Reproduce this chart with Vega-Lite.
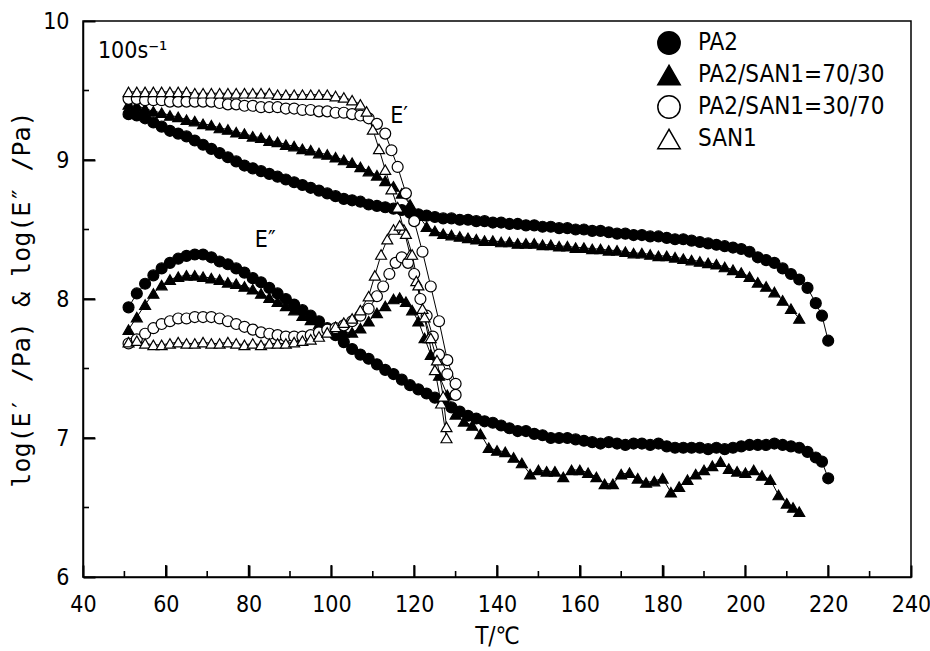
{
 "$schema": "https://vega.github.io/schema/vega-lite/v6.json",
 "width": 828, "height": 556,
 "autosize": "none",
 "padding": {"left": 83, "top": 21, "right": 19, "bottom": 74},
 "background": "white",
 "config": {
   "font": "DejaVu Sans Condensed",
   "view": {"stroke": "black", "strokeWidth": 1.5},
   "axis": {"grid": false, "domainColor": "black", "domainWidth": 1.5, "labelColor": "black", "titleColor": "black", "labelFont": "DejaVu Sans Condensed", "titleFont": "DejaVu Sans Mono", "labelFontSize": 23, "titleFontSize": 25, "titleFontWeight": "normal", "labelFlush": false, "labelOverlap": false}
 },
 "data": {"values": [
  {"m":"PA2","c":"E1","T":51,"v":9.33},{"m":"PA2","c":"E1","T":53,"v":9.32},{"m":"PA2","c":"E1","T":55,"v":9.30},{"m":"PA2","c":"E1","T":57,"v":9.27},{"m":"PA2","c":"E1","T":59,"v":9.24},{"m":"PA2","c":"E1","T":61,"v":9.21},{"m":"PA2","c":"E1","T":63,"v":9.19},{"m":"PA2","c":"E1","T":65,"v":9.17},{"m":"PA2","c":"E1","T":67,"v":9.14},{"m":"PA2","c":"E1","T":69,"v":9.11},{"m":"PA2","c":"E1","T":71,"v":9.08},{"m":"PA2","c":"E1","T":73,"v":9.05},{"m":"PA2","c":"E1","T":75,"v":9.02},{"m":"PA2","c":"E1","T":77,"v":8.99},{"m":"PA2","c":"E1","T":79,"v":8.96},{"m":"PA2","c":"E1","T":81,"v":8.94},{"m":"PA2","c":"E1","T":83,"v":8.92},{"m":"PA2","c":"E1","T":85,"v":8.90},{"m":"PA2","c":"E1","T":87,"v":8.88},{"m":"PA2","c":"E1","T":89,"v":8.86},{"m":"PA2","c":"E1","T":91,"v":8.84},{"m":"PA2","c":"E1","T":93,"v":8.82},{"m":"PA2","c":"E1","T":95,"v":8.80},{"m":"PA2","c":"E1","T":97,"v":8.78},{"m":"PA2","c":"E1","T":99,"v":8.76},{"m":"PA2","c":"E1","T":101,"v":8.74},{"m":"PA2","c":"E1","T":103,"v":8.72},{"m":"PA2","c":"E1","T":105,"v":8.71},{"m":"PA2","c":"E1","T":107,"v":8.70},{"m":"PA2","c":"E1","T":109,"v":8.68},{"m":"PA2","c":"E1","T":111,"v":8.67},{"m":"PA2","c":"E1","T":113,"v":8.66},{"m":"PA2","c":"E1","T":115,"v":8.65},{"m":"PA2","c":"E1","T":117,"v":8.64},{"m":"PA2","c":"E1","T":119,"v":8.62},{"m":"PA2","c":"E1","T":121,"v":8.61},{"m":"PA2","c":"E1","T":123,"v":8.60},{"m":"PA2","c":"E1","T":125,"v":8.59},{"m":"PA2","c":"E1","T":127,"v":8.58},{"m":"PA2","c":"E1","T":129,"v":8.58},{"m":"PA2","c":"E1","T":131,"v":8.57},{"m":"PA2","c":"E1","T":133,"v":8.57},{"m":"PA2","c":"E1","T":135,"v":8.56},{"m":"PA2","c":"E1","T":137,"v":8.56},{"m":"PA2","c":"E1","T":139,"v":8.55},{"m":"PA2","c":"E1","T":141,"v":8.55},{"m":"PA2","c":"E1","T":143,"v":8.54},{"m":"PA2","c":"E1","T":145,"v":8.54},{"m":"PA2","c":"E1","T":147,"v":8.53},{"m":"PA2","c":"E1","T":149,"v":8.53},{"m":"PA2","c":"E1","T":151,"v":8.52},{"m":"PA2","c":"E1","T":153,"v":8.52},{"m":"PA2","c":"E1","T":155,"v":8.51},{"m":"PA2","c":"E1","T":157,"v":8.51},{"m":"PA2","c":"E1","T":159,"v":8.50},{"m":"PA2","c":"E1","T":161,"v":8.50},{"m":"PA2","c":"E1","T":163,"v":8.49},{"m":"PA2","c":"E1","T":165,"v":8.49},{"m":"PA2","c":"E1","T":167,"v":8.48},{"m":"PA2","c":"E1","T":169,"v":8.47},{"m":"PA2","c":"E1","T":171,"v":8.47},{"m":"PA2","c":"E1","T":173,"v":8.46},{"m":"PA2","c":"E1","T":175,"v":8.46},{"m":"PA2","c":"E1","T":177,"v":8.45},{"m":"PA2","c":"E1","T":179,"v":8.45},{"m":"PA2","c":"E1","T":181,"v":8.44},{"m":"PA2","c":"E1","T":183,"v":8.43},{"m":"PA2","c":"E1","T":185,"v":8.43},{"m":"PA2","c":"E1","T":187,"v":8.42},{"m":"PA2","c":"E1","T":189,"v":8.41},{"m":"PA2","c":"E1","T":191,"v":8.40},{"m":"PA2","c":"E1","T":193,"v":8.39},{"m":"PA2","c":"E1","T":195,"v":8.38},{"m":"PA2","c":"E1","T":197,"v":8.37},{"m":"PA2","c":"E1","T":199,"v":8.36},{"m":"PA2","c":"E1","T":201,"v":8.34},{"m":"PA2","c":"E1","T":203,"v":8.30},{"m":"PA2","c":"E1","T":205,"v":8.28},{"m":"PA2","c":"E1","T":207,"v":8.26},{"m":"PA2","c":"E1","T":209,"v":8.22},{"m":"PA2","c":"E1","T":211,"v":8.18},{"m":"PA2","c":"E1","T":213,"v":8.14},{"m":"PA2","c":"E1","T":215,"v":8.08},{"m":"PA2","c":"E1","T":217,"v":7.97},{"m":"PA2","c":"E1","T":218.5,"v":7.88},{"m":"PA2","c":"E1","T":220,"v":7.70},

  {"m":"PA2","c":"E2","T":51,"v":7.94},{"m":"PA2","c":"E2","T":53,"v":8.04},{"m":"PA2","c":"E2","T":55,"v":8.11},{"m":"PA2","c":"E2","T":57,"v":8.17},{"m":"PA2","c":"E2","T":59,"v":8.22},{"m":"PA2","c":"E2","T":61,"v":8.26},{"m":"PA2","c":"E2","T":63,"v":8.29},{"m":"PA2","c":"E2","T":65,"v":8.31},{"m":"PA2","c":"E2","T":67,"v":8.32},{"m":"PA2","c":"E2","T":69,"v":8.32},{"m":"PA2","c":"E2","T":71,"v":8.30},{"m":"PA2","c":"E2","T":73,"v":8.27},{"m":"PA2","c":"E2","T":75,"v":8.25},{"m":"PA2","c":"E2","T":77,"v":8.22},{"m":"PA2","c":"E2","T":79,"v":8.19},{"m":"PA2","c":"E2","T":81,"v":8.15},{"m":"PA2","c":"E2","T":83,"v":8.12},{"m":"PA2","c":"E2","T":85,"v":8.08},{"m":"PA2","c":"E2","T":87,"v":8.04},{"m":"PA2","c":"E2","T":89,"v":8.00},{"m":"PA2","c":"E2","T":91,"v":7.96},{"m":"PA2","c":"E2","T":93,"v":7.92},{"m":"PA2","c":"E2","T":95,"v":7.88},{"m":"PA2","c":"E2","T":97,"v":7.84},{"m":"PA2","c":"E2","T":99,"v":7.79},{"m":"PA2","c":"E2","T":101,"v":7.74},{"m":"PA2","c":"E2","T":103,"v":7.69},{"m":"PA2","c":"E2","T":105,"v":7.64},{"m":"PA2","c":"E2","T":107,"v":7.60},{"m":"PA2","c":"E2","T":109,"v":7.57},{"m":"PA2","c":"E2","T":111,"v":7.53},{"m":"PA2","c":"E2","T":113,"v":7.49},{"m":"PA2","c":"E2","T":115,"v":7.46},{"m":"PA2","c":"E2","T":117,"v":7.42},{"m":"PA2","c":"E2","T":119,"v":7.38},{"m":"PA2","c":"E2","T":121,"v":7.35},{"m":"PA2","c":"E2","T":123,"v":7.32},{"m":"PA2","c":"E2","T":125,"v":7.29},{"m":"PA2","c":"E2","T":127,"v":7.26},{"m":"PA2","c":"E2","T":129,"v":7.22},{"m":"PA2","c":"E2","T":131,"v":7.19},{"m":"PA2","c":"E2","T":133,"v":7.16},{"m":"PA2","c":"E2","T":135,"v":7.14},{"m":"PA2","c":"E2","T":137,"v":7.12},{"m":"PA2","c":"E2","T":139,"v":7.11},{"m":"PA2","c":"E2","T":141,"v":7.09},{"m":"PA2","c":"E2","T":143,"v":7.07},{"m":"PA2","c":"E2","T":145,"v":7.05},{"m":"PA2","c":"E2","T":147,"v":7.05},{"m":"PA2","c":"E2","T":149,"v":7.03},{"m":"PA2","c":"E2","T":151,"v":7.02},{"m":"PA2","c":"E2","T":153,"v":7.00},{"m":"PA2","c":"E2","T":155,"v":7.00},{"m":"PA2","c":"E2","T":157,"v":7.00},{"m":"PA2","c":"E2","T":159,"v":6.99},{"m":"PA2","c":"E2","T":161,"v":6.98},{"m":"PA2","c":"E2","T":163,"v":6.97},{"m":"PA2","c":"E2","T":165,"v":6.96},{"m":"PA2","c":"E2","T":167,"v":6.97},{"m":"PA2","c":"E2","T":169,"v":6.96},{"m":"PA2","c":"E2","T":171,"v":6.95},{"m":"PA2","c":"E2","T":173,"v":6.96},{"m":"PA2","c":"E2","T":175,"v":6.96},{"m":"PA2","c":"E2","T":177,"v":6.95},{"m":"PA2","c":"E2","T":179,"v":6.96},{"m":"PA2","c":"E2","T":181,"v":6.94},{"m":"PA2","c":"E2","T":183,"v":6.93},{"m":"PA2","c":"E2","T":185,"v":6.93},{"m":"PA2","c":"E2","T":187,"v":6.93},{"m":"PA2","c":"E2","T":189,"v":6.93},{"m":"PA2","c":"E2","T":191,"v":6.92},{"m":"PA2","c":"E2","T":193,"v":6.93},{"m":"PA2","c":"E2","T":195,"v":6.92},{"m":"PA2","c":"E2","T":197,"v":6.93},{"m":"PA2","c":"E2","T":199,"v":6.94},{"m":"PA2","c":"E2","T":201,"v":6.95},{"m":"PA2","c":"E2","T":203,"v":6.95},{"m":"PA2","c":"E2","T":205,"v":6.95},{"m":"PA2","c":"E2","T":207,"v":6.96},{"m":"PA2","c":"E2","T":209,"v":6.95},{"m":"PA2","c":"E2","T":211,"v":6.94},{"m":"PA2","c":"E2","T":213,"v":6.93},{"m":"PA2","c":"E2","T":215,"v":6.90},{"m":"PA2","c":"E2","T":217,"v":6.86},{"m":"PA2","c":"E2","T":218.5,"v":6.83},{"m":"PA2","c":"E2","T":220,"v":6.71},

  {"m":"PA2/SAN1=70/30","c":"E1","T":51,"v":9.40},{"m":"PA2/SAN1=70/30","c":"E1","T":53,"v":9.39},{"m":"PA2/SAN1=70/30","c":"E1","T":55,"v":9.37},{"m":"PA2/SAN1=70/30","c":"E1","T":57,"v":9.35},{"m":"PA2/SAN1=70/30","c":"E1","T":59,"v":9.34},{"m":"PA2/SAN1=70/30","c":"E1","T":61,"v":9.32},{"m":"PA2/SAN1=70/30","c":"E1","T":63,"v":9.31},{"m":"PA2/SAN1=70/30","c":"E1","T":65,"v":9.29},{"m":"PA2/SAN1=70/30","c":"E1","T":67,"v":9.28},{"m":"PA2/SAN1=70/30","c":"E1","T":69,"v":9.26},{"m":"PA2/SAN1=70/30","c":"E1","T":71,"v":9.25},{"m":"PA2/SAN1=70/30","c":"E1","T":73,"v":9.23},{"m":"PA2/SAN1=70/30","c":"E1","T":75,"v":9.22},{"m":"PA2/SAN1=70/30","c":"E1","T":77,"v":9.20},{"m":"PA2/SAN1=70/30","c":"E1","T":79,"v":9.19},{"m":"PA2/SAN1=70/30","c":"E1","T":81,"v":9.17},{"m":"PA2/SAN1=70/30","c":"E1","T":83,"v":9.16},{"m":"PA2/SAN1=70/30","c":"E1","T":85,"v":9.14},{"m":"PA2/SAN1=70/30","c":"E1","T":87,"v":9.13},{"m":"PA2/SAN1=70/30","c":"E1","T":89,"v":9.11},{"m":"PA2/SAN1=70/30","c":"E1","T":91,"v":9.10},{"m":"PA2/SAN1=70/30","c":"E1","T":93,"v":9.08},{"m":"PA2/SAN1=70/30","c":"E1","T":95,"v":9.07},{"m":"PA2/SAN1=70/30","c":"E1","T":97,"v":9.05},{"m":"PA2/SAN1=70/30","c":"E1","T":99,"v":9.04},{"m":"PA2/SAN1=70/30","c":"E1","T":101,"v":9.02},{"m":"PA2/SAN1=70/30","c":"E1","T":103,"v":9.00},{"m":"PA2/SAN1=70/30","c":"E1","T":105,"v":8.98},{"m":"PA2/SAN1=70/30","c":"E1","T":107,"v":8.95},{"m":"PA2/SAN1=70/30","c":"E1","T":109,"v":8.92},{"m":"PA2/SAN1=70/30","c":"E1","T":111,"v":8.89},{"m":"PA2/SAN1=70/30","c":"E1","T":113,"v":8.85},{"m":"PA2/SAN1=70/30","c":"E1","T":115,"v":8.81},{"m":"PA2/SAN1=70/30","c":"E1","T":117,"v":8.76},{"m":"PA2/SAN1=70/30","c":"E1","T":119,"v":8.68},{"m":"PA2/SAN1=70/30","c":"E1","T":121,"v":8.60},{"m":"PA2/SAN1=70/30","c":"E1","T":123,"v":8.52},{"m":"PA2/SAN1=70/30","c":"E1","T":125,"v":8.49},{"m":"PA2/SAN1=70/30","c":"E1","T":127,"v":8.47},{"m":"PA2/SAN1=70/30","c":"E1","T":129,"v":8.46},{"m":"PA2/SAN1=70/30","c":"E1","T":131,"v":8.45},{"m":"PA2/SAN1=70/30","c":"E1","T":133,"v":8.44},{"m":"PA2/SAN1=70/30","c":"E1","T":135,"v":8.43},{"m":"PA2/SAN1=70/30","c":"E1","T":137,"v":8.42},{"m":"PA2/SAN1=70/30","c":"E1","T":139,"v":8.42},{"m":"PA2/SAN1=70/30","c":"E1","T":141,"v":8.41},{"m":"PA2/SAN1=70/30","c":"E1","T":143,"v":8.41},{"m":"PA2/SAN1=70/30","c":"E1","T":145,"v":8.40},{"m":"PA2/SAN1=70/30","c":"E1","T":147,"v":8.40},{"m":"PA2/SAN1=70/30","c":"E1","T":149,"v":8.40},{"m":"PA2/SAN1=70/30","c":"E1","T":151,"v":8.39},{"m":"PA2/SAN1=70/30","c":"E1","T":153,"v":8.39},{"m":"PA2/SAN1=70/30","c":"E1","T":155,"v":8.38},{"m":"PA2/SAN1=70/30","c":"E1","T":157,"v":8.38},{"m":"PA2/SAN1=70/30","c":"E1","T":159,"v":8.37},{"m":"PA2/SAN1=70/30","c":"E1","T":161,"v":8.37},{"m":"PA2/SAN1=70/30","c":"E1","T":163,"v":8.36},{"m":"PA2/SAN1=70/30","c":"E1","T":165,"v":8.36},{"m":"PA2/SAN1=70/30","c":"E1","T":167,"v":8.35},{"m":"PA2/SAN1=70/30","c":"E1","T":169,"v":8.35},{"m":"PA2/SAN1=70/30","c":"E1","T":171,"v":8.34},{"m":"PA2/SAN1=70/30","c":"E1","T":173,"v":8.33},{"m":"PA2/SAN1=70/30","c":"E1","T":175,"v":8.33},{"m":"PA2/SAN1=70/30","c":"E1","T":177,"v":8.32},{"m":"PA2/SAN1=70/30","c":"E1","T":179,"v":8.31},{"m":"PA2/SAN1=70/30","c":"E1","T":181,"v":8.31},{"m":"PA2/SAN1=70/30","c":"E1","T":183,"v":8.30},{"m":"PA2/SAN1=70/30","c":"E1","T":185,"v":8.29},{"m":"PA2/SAN1=70/30","c":"E1","T":187,"v":8.28},{"m":"PA2/SAN1=70/30","c":"E1","T":189,"v":8.27},{"m":"PA2/SAN1=70/30","c":"E1","T":191,"v":8.26},{"m":"PA2/SAN1=70/30","c":"E1","T":193,"v":8.25},{"m":"PA2/SAN1=70/30","c":"E1","T":195,"v":8.23},{"m":"PA2/SAN1=70/30","c":"E1","T":197,"v":8.21},{"m":"PA2/SAN1=70/30","c":"E1","T":199,"v":8.19},{"m":"PA2/SAN1=70/30","c":"E1","T":201,"v":8.16},{"m":"PA2/SAN1=70/30","c":"E1","T":203,"v":8.12},{"m":"PA2/SAN1=70/30","c":"E1","T":205,"v":8.09},{"m":"PA2/SAN1=70/30","c":"E1","T":207,"v":8.05},{"m":"PA2/SAN1=70/30","c":"E1","T":209,"v":7.99},{"m":"PA2/SAN1=70/30","c":"E1","T":211,"v":7.93},{"m":"PA2/SAN1=70/30","c":"E1","T":213,"v":7.86},

  {"m":"PA2/SAN1=70/30","c":"E2","T":51,"v":7.78},{"m":"PA2/SAN1=70/30","c":"E2","T":53,"v":7.87},{"m":"PA2/SAN1=70/30","c":"E2","T":55,"v":7.96},{"m":"PA2/SAN1=70/30","c":"E2","T":57,"v":8.04},{"m":"PA2/SAN1=70/30","c":"E2","T":59,"v":8.10},{"m":"PA2/SAN1=70/30","c":"E2","T":61,"v":8.14},{"m":"PA2/SAN1=70/30","c":"E2","T":63,"v":8.16},{"m":"PA2/SAN1=70/30","c":"E2","T":65,"v":8.17},{"m":"PA2/SAN1=70/30","c":"E2","T":67,"v":8.17},{"m":"PA2/SAN1=70/30","c":"E2","T":69,"v":8.16},{"m":"PA2/SAN1=70/30","c":"E2","T":71,"v":8.15},{"m":"PA2/SAN1=70/30","c":"E2","T":73,"v":8.14},{"m":"PA2/SAN1=70/30","c":"E2","T":75,"v":8.12},{"m":"PA2/SAN1=70/30","c":"E2","T":77,"v":8.11},{"m":"PA2/SAN1=70/30","c":"E2","T":79,"v":8.09},{"m":"PA2/SAN1=70/30","c":"E2","T":81,"v":8.07},{"m":"PA2/SAN1=70/30","c":"E2","T":83,"v":8.04},{"m":"PA2/SAN1=70/30","c":"E2","T":85,"v":8.01},{"m":"PA2/SAN1=70/30","c":"E2","T":87,"v":7.98},{"m":"PA2/SAN1=70/30","c":"E2","T":89,"v":7.95},{"m":"PA2/SAN1=70/30","c":"E2","T":91,"v":7.92},{"m":"PA2/SAN1=70/30","c":"E2","T":93,"v":7.88},{"m":"PA2/SAN1=70/30","c":"E2","T":95,"v":7.85},{"m":"PA2/SAN1=70/30","c":"E2","T":97,"v":7.82},{"m":"PA2/SAN1=70/30","c":"E2","T":99,"v":7.79},{"m":"PA2/SAN1=70/30","c":"E2","T":101,"v":7.77},{"m":"PA2/SAN1=70/30","c":"E2","T":103,"v":7.76},{"m":"PA2/SAN1=70/30","c":"E2","T":105,"v":7.76},{"m":"PA2/SAN1=70/30","c":"E2","T":107,"v":7.79},{"m":"PA2/SAN1=70/30","c":"E2","T":109,"v":7.84},{"m":"PA2/SAN1=70/30","c":"E2","T":111,"v":7.90},{"m":"PA2/SAN1=70/30","c":"E2","T":113,"v":7.95},{"m":"PA2/SAN1=70/30","c":"E2","T":115,"v":8.00},{"m":"PA2/SAN1=70/30","c":"E2","T":116.5,"v":8.01},{"m":"PA2/SAN1=70/30","c":"E2","T":118,"v":7.98},{"m":"PA2/SAN1=70/30","c":"E2","T":119.5,"v":7.92},{"m":"PA2/SAN1=70/30","c":"E2","T":121,"v":7.84},{"m":"PA2/SAN1=70/30","c":"E2","T":122.5,"v":7.72},{"m":"PA2/SAN1=70/30","c":"E2","T":124,"v":7.60},{"m":"PA2/SAN1=70/30","c":"E2","T":126,"v":7.45},{"m":"PA2/SAN1=70/30","c":"E2","T":128,"v":7.31},{"m":"PA2/SAN1=70/30","c":"E2","T":130,"v":7.17},{"m":"PA2/SAN1=70/30","c":"E2","T":132,"v":7.12},{"m":"PA2/SAN1=70/30","c":"E2","T":134,"v":7.09},{"m":"PA2/SAN1=70/30","c":"E2","T":136,"v":7.03},{"m":"PA2/SAN1=70/30","c":"E2","T":138,"v":6.93},{"m":"PA2/SAN1=70/30","c":"E2","T":140,"v":6.91},{"m":"PA2/SAN1=70/30","c":"E2","T":142,"v":6.90},{"m":"PA2/SAN1=70/30","c":"E2","T":144,"v":6.86},{"m":"PA2/SAN1=70/30","c":"E2","T":146,"v":6.82},{"m":"PA2/SAN1=70/30","c":"E2","T":148,"v":6.74},{"m":"PA2/SAN1=70/30","c":"E2","T":150,"v":6.77},{"m":"PA2/SAN1=70/30","c":"E2","T":152,"v":6.76},{"m":"PA2/SAN1=70/30","c":"E2","T":154,"v":6.76},{"m":"PA2/SAN1=70/30","c":"E2","T":156,"v":6.72},{"m":"PA2/SAN1=70/30","c":"E2","T":158,"v":6.77},{"m":"PA2/SAN1=70/30","c":"E2","T":160,"v":6.77},{"m":"PA2/SAN1=70/30","c":"E2","T":162,"v":6.75},{"m":"PA2/SAN1=70/30","c":"E2","T":164,"v":6.72},{"m":"PA2/SAN1=70/30","c":"E2","T":166,"v":6.67},{"m":"PA2/SAN1=70/30","c":"E2","T":168,"v":6.67},{"m":"PA2/SAN1=70/30","c":"E2","T":170,"v":6.74},{"m":"PA2/SAN1=70/30","c":"E2","T":172,"v":6.75},{"m":"PA2/SAN1=70/30","c":"E2","T":174,"v":6.71},{"m":"PA2/SAN1=70/30","c":"E2","T":176,"v":6.68},{"m":"PA2/SAN1=70/30","c":"E2","T":178,"v":6.69},{"m":"PA2/SAN1=70/30","c":"E2","T":180,"v":6.71},{"m":"PA2/SAN1=70/30","c":"E2","T":182,"v":6.61},{"m":"PA2/SAN1=70/30","c":"E2","T":184,"v":6.65},{"m":"PA2/SAN1=70/30","c":"E2","T":186,"v":6.70},{"m":"PA2/SAN1=70/30","c":"E2","T":188,"v":6.74},{"m":"PA2/SAN1=70/30","c":"E2","T":190,"v":6.77},{"m":"PA2/SAN1=70/30","c":"E2","T":192,"v":6.80},{"m":"PA2/SAN1=70/30","c":"E2","T":194,"v":6.83},{"m":"PA2/SAN1=70/30","c":"E2","T":196,"v":6.78},{"m":"PA2/SAN1=70/30","c":"E2","T":198,"v":6.76},{"m":"PA2/SAN1=70/30","c":"E2","T":200,"v":6.75},{"m":"PA2/SAN1=70/30","c":"E2","T":202,"v":6.77},{"m":"PA2/SAN1=70/30","c":"E2","T":204,"v":6.73},{"m":"PA2/SAN1=70/30","c":"E2","T":206,"v":6.70},{"m":"PA2/SAN1=70/30","c":"E2","T":208,"v":6.59},{"m":"PA2/SAN1=70/30","c":"E2","T":210,"v":6.53},{"m":"PA2/SAN1=70/30","c":"E2","T":211.5,"v":6.50},{"m":"PA2/SAN1=70/30","c":"E2","T":213,"v":6.47},

  {"m":"PA2/SAN1=30/70","c":"E1","T":51,"v":9.44},{"m":"PA2/SAN1=30/70","c":"E1","T":53,"v":9.44},{"m":"PA2/SAN1=30/70","c":"E1","T":55,"v":9.43},{"m":"PA2/SAN1=30/70","c":"E1","T":57,"v":9.43},{"m":"PA2/SAN1=30/70","c":"E1","T":59,"v":9.43},{"m":"PA2/SAN1=30/70","c":"E1","T":61,"v":9.42},{"m":"PA2/SAN1=30/70","c":"E1","T":63,"v":9.42},{"m":"PA2/SAN1=30/70","c":"E1","T":65,"v":9.42},{"m":"PA2/SAN1=30/70","c":"E1","T":67,"v":9.42},{"m":"PA2/SAN1=30/70","c":"E1","T":69,"v":9.42},{"m":"PA2/SAN1=30/70","c":"E1","T":71,"v":9.42},{"m":"PA2/SAN1=30/70","c":"E1","T":73,"v":9.41},{"m":"PA2/SAN1=30/70","c":"E1","T":75,"v":9.40},{"m":"PA2/SAN1=30/70","c":"E1","T":77,"v":9.40},{"m":"PA2/SAN1=30/70","c":"E1","T":79,"v":9.39},{"m":"PA2/SAN1=30/70","c":"E1","T":81,"v":9.39},{"m":"PA2/SAN1=30/70","c":"E1","T":83,"v":9.38},{"m":"PA2/SAN1=30/70","c":"E1","T":85,"v":9.38},{"m":"PA2/SAN1=30/70","c":"E1","T":87,"v":9.38},{"m":"PA2/SAN1=30/70","c":"E1","T":89,"v":9.37},{"m":"PA2/SAN1=30/70","c":"E1","T":91,"v":9.37},{"m":"PA2/SAN1=30/70","c":"E1","T":93,"v":9.36},{"m":"PA2/SAN1=30/70","c":"E1","T":95,"v":9.36},{"m":"PA2/SAN1=30/70","c":"E1","T":97,"v":9.35},{"m":"PA2/SAN1=30/70","c":"E1","T":99,"v":9.35},{"m":"PA2/SAN1=30/70","c":"E1","T":101,"v":9.34},{"m":"PA2/SAN1=30/70","c":"E1","T":103,"v":9.34},{"m":"PA2/SAN1=30/70","c":"E1","T":105,"v":9.33},{"m":"PA2/SAN1=30/70","c":"E1","T":107,"v":9.32},{"m":"PA2/SAN1=30/70","c":"E1","T":109,"v":9.30},{"m":"PA2/SAN1=30/70","c":"E1","T":111,"v":9.26},{"m":"PA2/SAN1=30/70","c":"E1","T":113,"v":9.19},{"m":"PA2/SAN1=30/70","c":"E1","T":114.5,"v":9.07},{"m":"PA2/SAN1=30/70","c":"E1","T":116,"v":8.95},{"m":"PA2/SAN1=30/70","c":"E1","T":118,"v":8.76},{"m":"PA2/SAN1=30/70","c":"E1","T":120,"v":8.56},{"m":"PA2/SAN1=30/70","c":"E1","T":122,"v":8.34},{"m":"PA2/SAN1=30/70","c":"E1","T":124,"v":8.09},{"m":"PA2/SAN1=30/70","c":"E1","T":126,"v":7.84},{"m":"PA2/SAN1=30/70","c":"E1","T":128,"v":7.56},{"m":"PA2/SAN1=30/70","c":"E1","T":130,"v":7.39},

  {"m":"PA2/SAN1=30/70","c":"E2","T":51,"v":7.68},{"m":"PA2/SAN1=30/70","c":"E2","T":53,"v":7.71},{"m":"PA2/SAN1=30/70","c":"E2","T":55,"v":7.75},{"m":"PA2/SAN1=30/70","c":"E2","T":57,"v":7.79},{"m":"PA2/SAN1=30/70","c":"E2","T":59,"v":7.82},{"m":"PA2/SAN1=30/70","c":"E2","T":61,"v":7.84},{"m":"PA2/SAN1=30/70","c":"E2","T":63,"v":7.86},{"m":"PA2/SAN1=30/70","c":"E2","T":65,"v":7.86},{"m":"PA2/SAN1=30/70","c":"E2","T":67,"v":7.87},{"m":"PA2/SAN1=30/70","c":"E2","T":69,"v":7.87},{"m":"PA2/SAN1=30/70","c":"E2","T":71,"v":7.87},{"m":"PA2/SAN1=30/70","c":"E2","T":73,"v":7.86},{"m":"PA2/SAN1=30/70","c":"E2","T":75,"v":7.84},{"m":"PA2/SAN1=30/70","c":"E2","T":77,"v":7.82},{"m":"PA2/SAN1=30/70","c":"E2","T":79,"v":7.80},{"m":"PA2/SAN1=30/70","c":"E2","T":81,"v":7.78},{"m":"PA2/SAN1=30/70","c":"E2","T":83,"v":7.76},{"m":"PA2/SAN1=30/70","c":"E2","T":85,"v":7.75},{"m":"PA2/SAN1=30/70","c":"E2","T":87,"v":7.74},{"m":"PA2/SAN1=30/70","c":"E2","T":89,"v":7.73},{"m":"PA2/SAN1=30/70","c":"E2","T":91,"v":7.73},{"m":"PA2/SAN1=30/70","c":"E2","T":93,"v":7.73},{"m":"PA2/SAN1=30/70","c":"E2","T":95,"v":7.74},{"m":"PA2/SAN1=30/70","c":"E2","T":97,"v":7.76},{"m":"PA2/SAN1=30/70","c":"E2","T":99,"v":7.78},{"m":"PA2/SAN1=30/70","c":"E2","T":101,"v":7.79},{"m":"PA2/SAN1=30/70","c":"E2","T":103,"v":7.81},{"m":"PA2/SAN1=30/70","c":"E2","T":105,"v":7.84},{"m":"PA2/SAN1=30/70","c":"E2","T":107,"v":7.88},{"m":"PA2/SAN1=30/70","c":"E2","T":109,"v":7.93},{"m":"PA2/SAN1=30/70","c":"E2","T":111,"v":8.02},{"m":"PA2/SAN1=30/70","c":"E2","T":112.5,"v":8.09},{"m":"PA2/SAN1=30/70","c":"E2","T":114,"v":8.18},{"m":"PA2/SAN1=30/70","c":"E2","T":115.5,"v":8.26},{"m":"PA2/SAN1=30/70","c":"E2","T":117,"v":8.30},{"m":"PA2/SAN1=30/70","c":"E2","T":118.5,"v":8.26},{"m":"PA2/SAN1=30/70","c":"E2","T":120,"v":8.18},{"m":"PA2/SAN1=30/70","c":"E2","T":121.5,"v":8.00},{"m":"PA2/SAN1=30/70","c":"E2","T":123,"v":7.88},{"m":"PA2/SAN1=30/70","c":"E2","T":124.5,"v":7.73},{"m":"PA2/SAN1=30/70","c":"E2","T":126,"v":7.60},{"m":"PA2/SAN1=30/70","c":"E2","T":128,"v":7.46},{"m":"PA2/SAN1=30/70","c":"E2","T":130,"v":7.31},

  {"m":"SAN1","c":"E1","T":51,"v":9.49},{"m":"SAN1","c":"E1","T":53,"v":9.49},{"m":"SAN1","c":"E1","T":55,"v":9.49},{"m":"SAN1","c":"E1","T":57,"v":9.49},{"m":"SAN1","c":"E1","T":59,"v":9.49},{"m":"SAN1","c":"E1","T":61,"v":9.49},{"m":"SAN1","c":"E1","T":63,"v":9.49},{"m":"SAN1","c":"E1","T":65,"v":9.49},{"m":"SAN1","c":"E1","T":67,"v":9.48},{"m":"SAN1","c":"E1","T":69,"v":9.48},{"m":"SAN1","c":"E1","T":71,"v":9.48},{"m":"SAN1","c":"E1","T":73,"v":9.48},{"m":"SAN1","c":"E1","T":75,"v":9.48},{"m":"SAN1","c":"E1","T":77,"v":9.48},{"m":"SAN1","c":"E1","T":79,"v":9.48},{"m":"SAN1","c":"E1","T":81,"v":9.48},{"m":"SAN1","c":"E1","T":83,"v":9.48},{"m":"SAN1","c":"E1","T":85,"v":9.48},{"m":"SAN1","c":"E1","T":87,"v":9.47},{"m":"SAN1","c":"E1","T":89,"v":9.47},{"m":"SAN1","c":"E1","T":91,"v":9.47},{"m":"SAN1","c":"E1","T":93,"v":9.47},{"m":"SAN1","c":"E1","T":95,"v":9.47},{"m":"SAN1","c":"E1","T":97,"v":9.47},{"m":"SAN1","c":"E1","T":99,"v":9.47},{"m":"SAN1","c":"E1","T":101,"v":9.46},{"m":"SAN1","c":"E1","T":103,"v":9.45},{"m":"SAN1","c":"E1","T":105,"v":9.43},{"m":"SAN1","c":"E1","T":107,"v":9.40},{"m":"SAN1","c":"E1","T":108.5,"v":9.35},{"m":"SAN1","c":"E1","T":110,"v":9.22},{"m":"SAN1","c":"E1","T":111.5,"v":9.08},{"m":"SAN1","c":"E1","T":113,"v":8.93},{"m":"SAN1","c":"E1","T":114.5,"v":8.79},{"m":"SAN1","c":"E1","T":116,"v":8.66},{"m":"SAN1","c":"E1","T":117.5,"v":8.50},{"m":"SAN1","c":"E1","T":119,"v":8.32},{"m":"SAN1","c":"E1","T":120.5,"v":8.13},{"m":"SAN1","c":"E1","T":122,"v":7.93},{"m":"SAN1","c":"E1","T":123.5,"v":7.72},{"m":"SAN1","c":"E1","T":125,"v":7.49},{"m":"SAN1","c":"E1","T":126.5,"v":7.25},{"m":"SAN1","c":"E1","T":127.8,"v":7.00},

  {"m":"SAN1","c":"E2","T":51,"v":7.69},{"m":"SAN1","c":"E2","T":53,"v":7.70},{"m":"SAN1","c":"E2","T":55,"v":7.68},{"m":"SAN1","c":"E2","T":57,"v":7.67},{"m":"SAN1","c":"E2","T":59,"v":7.67},{"m":"SAN1","c":"E2","T":61,"v":7.68},{"m":"SAN1","c":"E2","T":63,"v":7.69},{"m":"SAN1","c":"E2","T":65,"v":7.68},{"m":"SAN1","c":"E2","T":67,"v":7.68},{"m":"SAN1","c":"E2","T":69,"v":7.69},{"m":"SAN1","c":"E2","T":71,"v":7.68},{"m":"SAN1","c":"E2","T":73,"v":7.68},{"m":"SAN1","c":"E2","T":75,"v":7.69},{"m":"SAN1","c":"E2","T":77,"v":7.68},{"m":"SAN1","c":"E2","T":79,"v":7.67},{"m":"SAN1","c":"E2","T":81,"v":7.68},{"m":"SAN1","c":"E2","T":83,"v":7.67},{"m":"SAN1","c":"E2","T":85,"v":7.68},{"m":"SAN1","c":"E2","T":87,"v":7.68},{"m":"SAN1","c":"E2","T":89,"v":7.68},{"m":"SAN1","c":"E2","T":91,"v":7.69},{"m":"SAN1","c":"E2","T":93,"v":7.70},{"m":"SAN1","c":"E2","T":95,"v":7.71},{"m":"SAN1","c":"E2","T":97,"v":7.73},{"m":"SAN1","c":"E2","T":99,"v":7.76},{"m":"SAN1","c":"E2","T":101,"v":7.80},{"m":"SAN1","c":"E2","T":103,"v":7.83},{"m":"SAN1","c":"E2","T":105,"v":7.86},{"m":"SAN1","c":"E2","T":107,"v":7.92},{"m":"SAN1","c":"E2","T":109,"v":8.02},{"m":"SAN1","c":"E2","T":110.5,"v":8.17},{"m":"SAN1","c":"E2","T":112,"v":8.32},{"m":"SAN1","c":"E2","T":113.5,"v":8.43},{"m":"SAN1","c":"E2","T":115,"v":8.50},{"m":"SAN1","c":"E2","T":116.5,"v":8.53},{"m":"SAN1","c":"E2","T":118,"v":8.47},{"m":"SAN1","c":"E2","T":119.5,"v":8.32},{"m":"SAN1","c":"E2","T":121,"v":8.10},{"m":"SAN1","c":"E2","T":122.5,"v":7.87},{"m":"SAN1","c":"E2","T":124,"v":7.72},{"m":"SAN1","c":"E2","T":125.5,"v":7.56},{"m":"SAN1","c":"E2","T":127,"v":7.30},{"m":"SAN1","c":"E2","T":127.8,"v":7.08}
 ]},
 "encoding": {
   "x": {"field": "T", "type": "quantitative", "scale": {"domain": [40, 240], "nice": false, "zero": false},
     "axis": {"orient": "bottom", "title": "T/℃", "values": [40,60,80,100,120,140,160,180,200,220,240], "ticks": true, "tickSize": -12, "tickColor": "black", "tickWidth": 2, "labelPadding": 28, "titlePadding": 8, "titleFont": "DejaVu Sans Condensed", "titleFontSize": 24}},
   "y": {"field": "v", "type": "quantitative", "scale": {"domain": [6, 10], "nice": false, "zero": false},
     "axis": {"orient": "left", "title": "log(E′  /Pa) & log(E″  /Pa)", "values": [6,7,8,9,10], "format": "d", "ticks": true, "tickSize": -12, "tickColor": "black", "tickWidth": 2, "labelPadding": 26, "titlePadding": 8}}
 },
 "layer": [
   {"data": {"values": [
      {"T":60,"T2":60,"v":6,"v2":6.086},{"T":80,"T2":80,"v":6,"v2":6.086},{"T":100,"T2":100,"v":6,"v2":6.086},{"T":120,"T2":120,"v":6,"v2":6.086},{"T":140,"T2":140,"v":6,"v2":6.086},{"T":160,"T2":160,"v":6,"v2":6.086},{"T":180,"T2":180,"v":6,"v2":6.086},{"T":200,"T2":200,"v":6,"v2":6.086},{"T":220,"T2":220,"v":6,"v2":6.086},
      {"T":50,"T2":50,"v":6,"v2":6.043},{"T":70,"T2":70,"v":6,"v2":6.043},{"T":90,"T2":90,"v":6,"v2":6.043},{"T":110,"T2":110,"v":6,"v2":6.043},{"T":130,"T2":130,"v":6,"v2":6.043},{"T":150,"T2":150,"v":6,"v2":6.043},{"T":170,"T2":170,"v":6,"v2":6.043},{"T":190,"T2":190,"v":6,"v2":6.043},{"T":210,"T2":210,"v":6,"v2":6.043},{"T":230,"T2":230,"v":6,"v2":6.043},
      {"T":40,"T2":42.9,"v":7,"v2":7},{"T":40,"T2":42.9,"v":8,"v2":8},{"T":40,"T2":42.9,"v":9,"v2":9},
      {"T":40,"T2":41.45,"v":6.5,"v2":6.5},{"T":40,"T2":41.45,"v":7.5,"v2":7.5},{"T":40,"T2":41.45,"v":8.5,"v2":8.5},{"T":40,"T2":41.45,"v":9.5,"v2":9.5}
    ]},
    "mark": {"type": "rule", "color": "black", "strokeWidth": 1.6},
    "encoding": {"x2": {"field": "T2"}, "y2": {"field": "v2"}}},
   {"mark": {"type": "line", "color": "black", "strokeWidth": 1},
    "encoding": {"detail": [{"field": "m"}, {"field": "c"}]}},
   {"mark": {"type": "point", "filled": true, "stroke": "black", "strokeWidth": 1.2, "opacity": 1, "size": 120},
    "encoding": {
      "shape": {"field": "m", "type": "nominal", "scale": {"domain": ["PA2","PA2/SAN1=70/30","PA2/SAN1=30/70","SAN1"], "range": ["circle","triangle-up","circle","triangle-up"]},
        "legend": {"orient": "none", "legendX": 574, "legendY": 10, "title": null, "labelFontSize": 24, "labelFont": "DejaVu Sans Condensed", "labelColor": "black", "labelLimit": 0, "symbolSize": 500, "labelOffset": 17, "rowPadding": 4,
          "encode": {"symbols": {"update": {"stroke": {"value": "black"}, "strokeWidth": {"value": 1.5}}}}}},
      "fill": {"field": "m", "type": "nominal", "scale": {"domain": ["PA2","PA2/SAN1=70/30","PA2/SAN1=30/70","SAN1"], "range": ["black","black","white","white"]},
        "legend": {"orient": "none", "legendX": 574, "legendY": 10, "title": null, "labelFontSize": 24, "labelFont": "DejaVu Sans Condensed", "labelColor": "black", "labelLimit": 0, "symbolSize": 500, "labelOffset": 17, "rowPadding": 4,
          "encode": {"symbols": {"update": {"stroke": {"value": "black"}, "strokeWidth": {"value": 1.5}}}}}}
    }},
   {"data": {"values": [{"x": 43.6, "y": 9.734, "t": "100s⁻¹"}, {"x": 114.2, "y": 9.266, "t": "E′"}, {"x": 81.5, "y": 8.374, "t": "E″"}]},
    "mark": {"type": "text", "align": "left", "baseline": "alphabetic", "fontSize": 23, "font": "DejaVu Sans Condensed", "color": "black"},
    "encoding": {
      "x": {"field": "x", "type": "quantitative"},
      "y": {"field": "y", "type": "quantitative"},
      "text": {"field": "t"}}}
 ]
}
